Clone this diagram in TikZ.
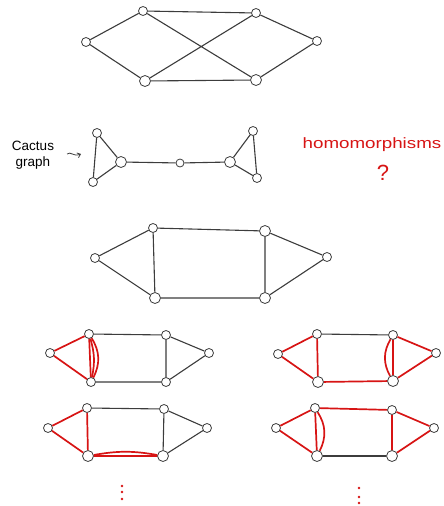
\documentclass[tikz,border=0pt]{standalone}
\usepackage{fontspec}
\setmainfont{Liberation Sans}
\usetikzlibrary{arrows.meta}
\definecolor{pen}{RGB}{60,60,60}
\definecolor{ink}{RGB}{215,20,20}
\begin{document}
\begin{tikzpicture}[x=1pt,y=-1pt,
  v/.style={circle,draw=pen,fill=white,line width=0.8pt,inner sep=0pt,minimum size=9pt},
  V/.style={v,minimum size=11pt},
  e/.style={draw=pen,line width=1.1pt},
  r/.style={draw=ink,line width=1.7pt},
  lbl/.style={inner sep=0pt,align=center}]
\useasboundingbox (0,0) rectangle (444,506);
% ---------- graph 1 ----------
\node[v] (a1) at (86,42) {};
\node[v] (a2) at (143,11) {};
\node[v] (a3) at (256,13) {};
\node[v] (a4) at (317,41) {};
\node[V] (a5) at (145,81) {};
\node[V] (a6) at (256,80) {};
\draw[e] (a1)--(a2) (a1)--(a5) (a2)--(a3) (a2)--(a6) (a5)--(a3) (a5)--(a6) (a3)--(a4) (a6)--(a4);
% ---------- cactus ----------
\node[lbl,font=\fontsize{13.5}{16}\selectfont] (ct) at (33,155) {Cactus\\graph};
\coordinate (ars) at (67,154);
\coordinate (are) at (81,154);
\draw[e,line width=0.8pt,-{Straight Barb[length=3pt,width=5pt]}] (ars) .. controls (71,151) and (73,157) .. (are);
\node[v] (c1) at (97,133) {};
\node[V] (c2) at (121,162) {};
\node[v] (c3) at (93,182) {};
\node[v,minimum size=8pt] (c4) at (180,163) {};
\node[V] (c5) at (230,162) {};
\node[v] (c6) at (253,131) {};
\node[v] (c7) at (257,178) {};
\draw[e] (c1)--(c2) (c1)--(c3) (c2)--(c3) (c2)--(c4) (c4)--(c5) (c5)--(c6) (c5)--(c7) (c6)--(c7);
\node[lbl,text=ink,font=\fontsize{15}{17}\selectfont] (hm) at (372,145) {\scalebox{1.25}[1]{homomorphisms}};
\node[lbl,text=ink,font=\fontsize{22}{24}\selectfont] (q) at (383,173) {?};
% ---------- graph 3 ----------
\node[v] (b1) at (95,258) {};
\node[v] (b2) at (153,228) {};
\node[V] (b3) at (265,231) {};
\node[v] (b4) at (327,257) {};
\node[V] (b5) at (155,298) {};
\node[V] (b6) at (265,298) {};
\draw[e] (b1)--(b2) (b1)--(b5) (b2)--(b3) (b2)--(b5) (b3)--(b6) (b3)--(b4) (b6)--(b4) (b5)--(b6);
% ---------- graph 5 (bottom left 1) ----------
\node[v] (d1) at (50,353) {};
\node[v] (d2) at (89,334) {};
\node[v] (d3) at (166,335) {};
\node[v] (d4) at (209,353) {};
\node[v] (d5) at (91,382) {};
\node[v] (d6) at (166,382) {};
\draw[e] (d2)--(d3) (d5)--(d6) (d3)--(d6) (d3)--(d4) (d6)--(d4);
\draw[r] (d1)--(d2) (d1)--(d5) (d2)--(d5);
\draw[r] (d2) to[bend left=14] (d5);
\draw[r] (d2) to[bend left=30] (d5);
% ---------- graph 6 (bottom right 1) ----------
\node[v] (f1) at (278,354) {};
\node[v] (f2) at (317,334) {};
\node[v] (f3) at (393,335) {};
\node[v] (f4) at (436,353) {};
\node[V] (f5) at (318,382) {};
\node[V] (f6) at (393,381) {};
\draw[e] (f2)--(f3);
\draw[r] (f1)--(f2) (f1)--(f5) (f2)--(f5) (f5)--(f6) (f3)--(f6) (f3)--(f4) (f6)--(f4);
\draw[r] (f3) to[bend right=30] (f6);
% ---------- graph 7 (bottom left 2) ----------
\node[v] (g1) at (48,428) {};
\node[v] (g2) at (87,408) {};
\node[v] (g3) at (164,409) {};
\node[v] (g4) at (207,428) {};
\node[V] (g5) at (88,456) {};
\node[V] (g6) at (163,456) {};
\draw[e] (g2)--(g3) (g3)--(g6) (g3)--(g4) (g6)--(g4);
\draw[r] (g1)--(g2) (g1)--(g5) (g2)--(g5) (g5)--(g6);
\draw[r] (g5) to[bend left=10] (g6);
% ---------- graph 8 (bottom right 2) ----------
\node[v] (h1) at (276,428) {};
\node[v] (h2) at (315,408) {};
\node[v] (h3) at (392,410) {};
\node[v] (h4) at (434,428) {};
\node[V] (h5) at (317,456) {};
\node[V] (h6) at (392,456) {};
\draw[e] (h5)--(h6);
\draw[r] (h1)--(h2) (h1)--(h5) (h2)--(h5) (h2)--(h3) (h3)--(h6) (h3)--(h4) (h6)--(h4);
\draw[r] (h2) to[bend left=30] (h5);
% ---------- dots ----------
\foreach \yy in {486,492,499} \fill[ink] (122,\yy) circle (1.3pt);
\foreach \yy in {488,497,503} \fill[ink] (359,\yy) circle (1.3pt);
\end{tikzpicture}
\end{document}
